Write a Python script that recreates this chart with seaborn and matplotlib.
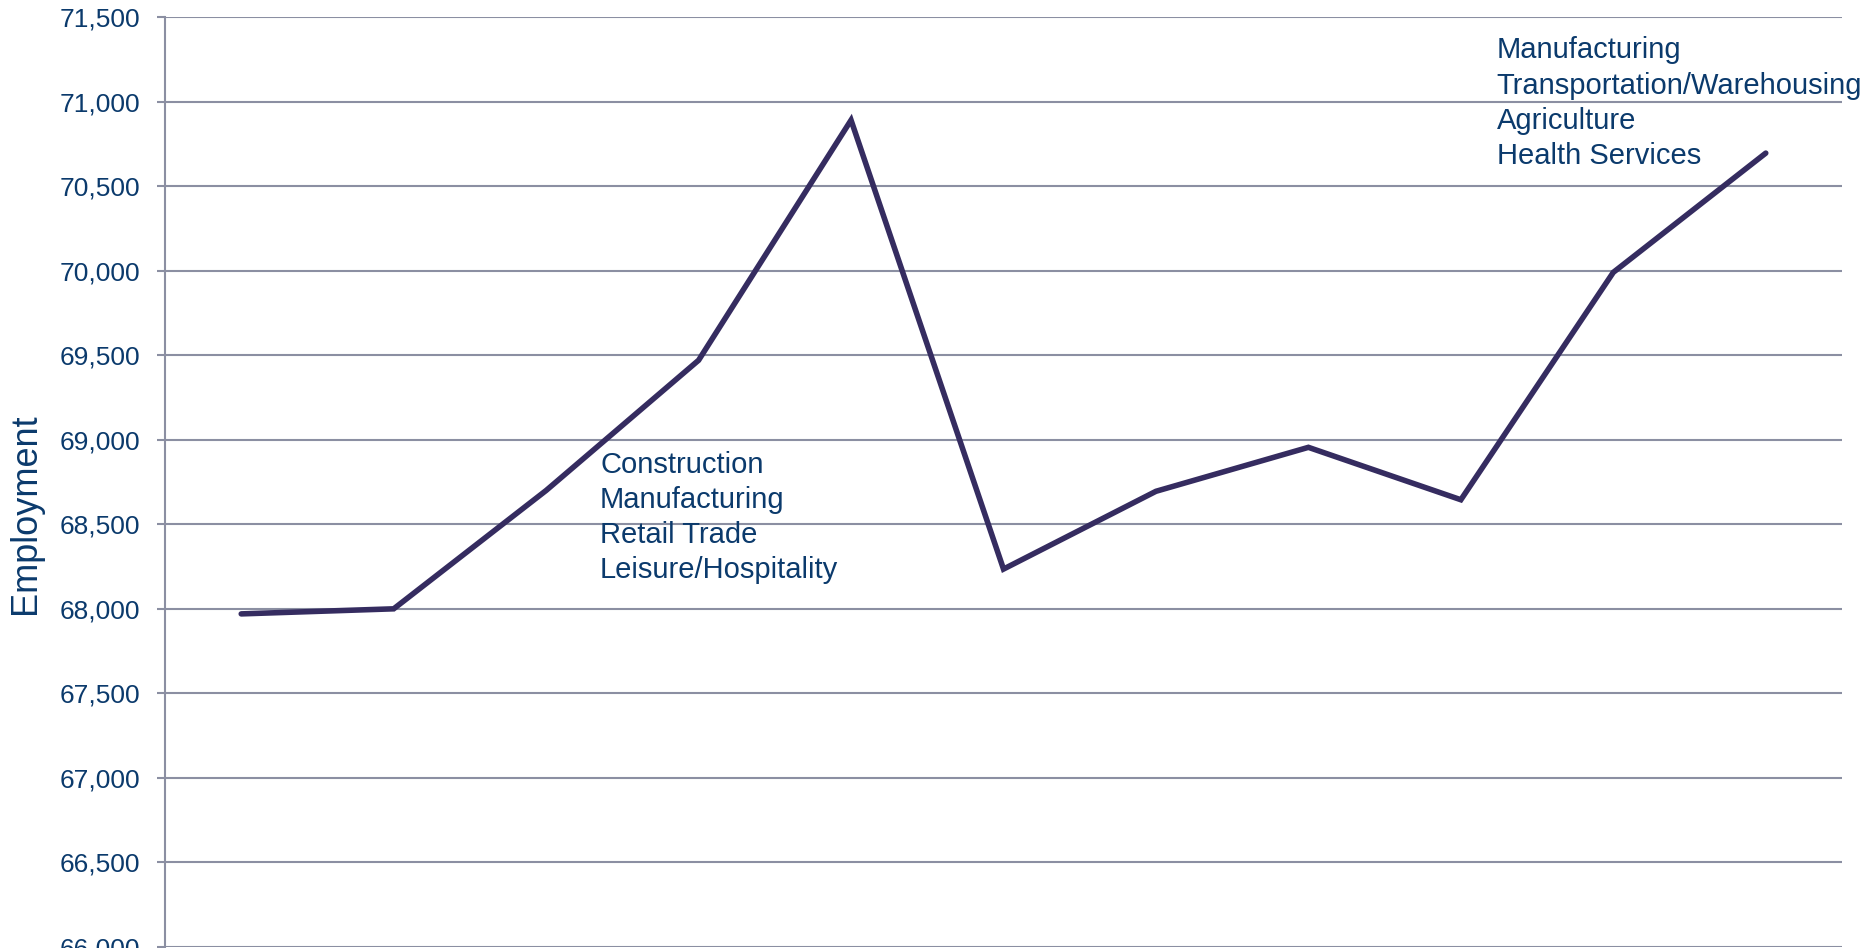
import matplotlib
matplotlib.use("Agg")
import matplotlib.pyplot as plt
import seaborn as sns
import pandas as pd
from matplotlib.ticker import FuncFormatter, MultipleLocator

# ---- data ----
periods = [1, 2, 3, 4, 5, 6, 7, 8, 9, 10, 11]
employment = [67970, 68000, 68700, 69470, 70890, 68235, 68695, 68955, 68645, 69990, 70695]
annot_mid = ["Construction", "Manufacturing", "Retail Trade", "Leisure/Hospitality"]
annot_end = ["Manufacturing", "Transportation/Warehousing", "Agriculture", "Health Services"]
y_label = "Employment"

df = pd.DataFrame({"period": periods, "employment": employment})

sns.set_theme(style="white")
plt.rcParams["font.family"] = ["Liberation Sans", "DejaVu Sans"]

TEXT = "#0b3a6c"
GRID = "#8b8fa2"
LINE = "#352c60"

fig = plt.figure(figsize=(18.74, 9.48), dpi=100)
ax = fig.add_axes([165 / 1874, 1 / 948, (1842 - 165) / 1874, (947 - 17) / 948])

sns.lineplot(data=df, x="period", y="employment", ax=ax, color=LINE,
             linewidth=4, solid_capstyle="round", solid_joinstyle="miter")

ax.set_xlim(0.5, 11.5)
ax.set_ylim(66000, 71500)
ax.yaxis.set_major_locator(MultipleLocator(500))
ax.yaxis.set_major_formatter(FuncFormatter(lambda v, p: f"{int(v):,}"))
ax.set_xticks([])
ax.set_xlabel("")
ax.set_ylabel(y_label, fontsize=26, color=TEXT)
ax.yaxis.set_label_coords(-0.0727, 0.466)

ax.grid(axis="y", color=GRID, linewidth=1.5)
ax.grid(axis="x", visible=False)
ax.set_axisbelow(True)
for s in ["top", "right", "bottom"]:
    ax.spines[s].set_visible(False)
ax.spines["left"].set_color(GRID)
ax.spines["left"].set_linewidth(1.5)
ax.tick_params(axis="y", which="major", left=True, length=6, width=1.5, color=GRID,
               labelsize=19, labelcolor=TEXT, pad=12)

ax.text(3.354, 68935, "\n".join(annot_mid), fontsize=21, color=TEXT,
        ha="left", va="top", linespacing=1.33)
ax.text(9.234, 71385, "\n".join(annot_end), fontsize=21, color=TEXT,
        ha="left", va="top", linespacing=1.33)

fig.savefig("out.png", dpi=100)
